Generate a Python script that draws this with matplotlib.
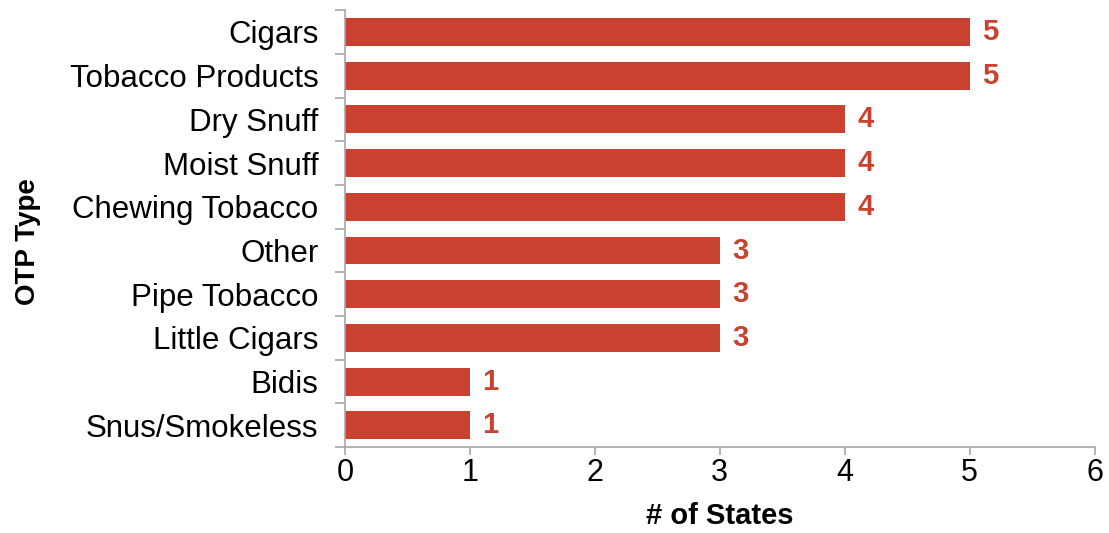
import numpy as np
import matplotlib.pyplot as plt
from matplotlib.ticker import FixedLocator

plt.rcParams['font.family'] = ['Liberation Sans', 'DejaVu Sans']

# data, top to bottom as shown
categories = ['Cigars', 'Tobacco Products', 'Dry Snuff', 'Moist Snuff',
              'Chewing Tobacco', 'Other', 'Pipe Tobacco', 'Little Cigars',
              'Bidis', 'Snus/Smokeless']
states = [5, 5, 4, 4, 4, 3, 3, 3, 1, 1]
x_ticks = [0, 1, 2, 3, 4, 5, 6]

bar_color = '#C9412F'
axis_color = '#A6A6A6'

fig = plt.figure(figsize=(11.09, 5.33), dpi=100)
ax = fig.add_axes([0.311, 0.161, 0.676, 0.82])

y = np.arange(len(categories))
ax.barh(y, states, height=0.64, color=bar_color)
for yi, v in zip(y, states):
    ax.text(v + 0.1, yi, str(v), va='center', ha='left', color=bar_color,
            fontsize=21, fontweight='bold')

ax.set_ylim(len(categories) - 0.5, -0.5)
ax.set_xlim(0, 6)
ax.set_yticks(y)
ax.set_yticklabels(categories, fontsize=22.5)
ax.yaxis.set_minor_locator(FixedLocator(np.arange(-0.5, len(categories), 1)))
ax.tick_params(axis='y', which='major', length=0, pad=19)
ax.tick_params(axis='y', which='minor', length=7, color=axis_color, width=1.2)
ax.set_xticks(x_ticks)
ax.tick_params(axis='x', labelsize=22, length=6, color=axis_color, width=1.2,
               pad=2)

for s in ['top', 'right']:
    ax.spines[s].set_visible(False)
for s in ['left', 'bottom']:
    ax.spines[s].set_color(axis_color)
    ax.spines[s].set_linewidth(1.2)

ax.set_xlabel('# of States', fontsize=21, fontweight='bold', labelpad=10)
ax.set_ylabel('OTP Type', fontsize=20, fontweight='bold')
ax.yaxis.set_label_coords(-0.405, 0.47)

fig.savefig('out.png', dpi=100)
